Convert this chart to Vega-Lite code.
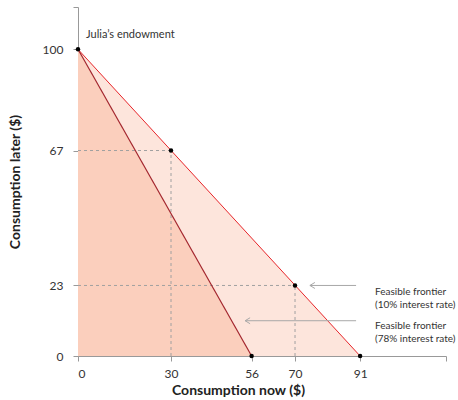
{
  "$schema": "https://vega.github.io/schema/vega-lite/v6.json",
  "autosize": {"type": "none"},
  "width": 368,
  "height": 349,
  "padding": {"left": 78, "top": 7, "right": 12, "bottom": 44},
  "background": "white",
  "config": {
    "view": {"stroke": null},
    "font": "Lato",
    "axis": {"grid": false}
  },
  "datasets": {
    "f10": [{"x": 0, "y": 100}, {"x": 91, "y": 0}],
    "f78": [{"x": 0, "y": 100}, {"x": 56, "y": 0}],
    "guides": [
      {"x": 30, "y": 0, "x2": 30, "y2": 67},
      {"x": 0, "y": 67, "x2": 30, "y2": 67},
      {"x": 70, "y": 0, "x2": 70, "y2": 23},
      {"x": 0, "y": 23, "x2": 70, "y2": 23}
    ],
    "pts": [
      {"x": 0, "y": 100}, {"x": 30, "y": 67}, {"x": 70, "y": 23},
      {"x": 91, "y": 0}, {"x": 56, "y": 0}
    ],
    "arrows": [
      {"x": 74.8, "x2": 89.7, "y": 23},
      {"x": 53.9, "x2": 89.7, "y": 11.5}
    ],
    "labels": [
      {"x": 95.8, "y": 20.8, "l1": "Feasible frontier", "l2": "(10% interest rate)"},
      {"x": 95.8, "y": 9.7, "l1": "Feasible frontier", "l2": "(78% interest rate)"}
    ],
    "endow": [{"x": 2.6, "y": 104.7, "t": "Julia’s endowment"}]
  },
  "encoding": {
    "x": {
      "field": "x", "type": "quantitative",
      "scale": {"domain": [0, 118.7], "nice": false, "zero": false},
      "axis": {
        "title": "Consumption now ($)",
        "values": [0, 30, 56, 70, 91, 118.7],
        "labelExpr": "datum.value > 100 ? '' : datum.label",
        "domainColor": "#999999", "tickColor": "#999999", "tickSize": 5,
        "labelFontSize": 12, "labelColor": "#333333", "labelPadding": 7,
        "titleFontSize": 14, "titleFontWeight": "bold", "titleColor": "#222222",
        "titleX": 160, "titlePadding": 4
      }
    },
    "y": {
      "field": "y", "type": "quantitative",
      "scale": {"domain": [0, 113.8], "nice": false, "zero": false},
      "axis": {
        "title": "Consumption later ($)",
        "values": [0, 23, 67, 100, 113.8],
        "labelExpr": "datum.value > 105 ? '' : datum.label",
        "domainColor": "#999999", "tickColor": "#999999", "tickSize": 5,
        "labelFontSize": 12, "labelColor": "#333333", "labelPadding": 10,
        "titleFontSize": 14, "titleFontWeight": "bold", "titleColor": "#222222",
        "titlePadding": 20
      }
    }
  },
  "layer": [
    {"data": {"name": "f10"}, "mark": {"type": "area", "color": "#fde5dc", "opacity": 1}},
    {"data": {"name": "f78"}, "mark": {"type": "area", "color": "#fbcfbd", "opacity": 1}},
    {
      "data": {"name": "guides"},
      "mark": {"type": "rule", "color": "#a0a0a0", "strokeDash": [3, 3], "strokeWidth": 1},
      "encoding": {"x2": {"field": "x2"}, "y2": {"field": "y2"}}
    },
    {"data": {"name": "f10"}, "mark": {"type": "line", "color": "#e8262b", "strokeWidth": 1}},
    {"data": {"name": "f78"}, "mark": {"type": "line", "color": "#a3262e", "strokeWidth": 1.2}},
    {"data": {"name": "pts"}, "mark": {"type": "point", "filled": true, "color": "#000000", "size": 20, "opacity": 1}},
    {
      "data": {"name": "arrows"},
      "mark": {"type": "rule", "color": "#a8a8a8", "strokeWidth": 1},
      "encoding": {"x2": {"field": "x2"}}
    },
    {
      "data": {"name": "arrows"},
      "mark": {"type": "point", "shape": "M1,-0.6L0,0L1,0.6", "filled": false, "stroke": "#a8a8a8", "strokeWidth": 1, "size": 100, "opacity": 1}
    },
    {
      "data": {"name": "labels"},
      "transform": [{"calculate": "[datum.l1, datum.l2]", "as": "txt"}],
      "mark": {"type": "text", "align": "left", "baseline": "middle", "fontSize": 10, "color": "#333333", "lineHeight": 13},
      "encoding": {"text": {"field": "txt"}}
    },
    {
      "data": {"name": "endow"},
      "mark": {"type": "text", "align": "left", "baseline": "middle", "fontSize": 11, "color": "#333333"},
      "encoding": {"text": {"field": "t"}}
    }
  ]
}
